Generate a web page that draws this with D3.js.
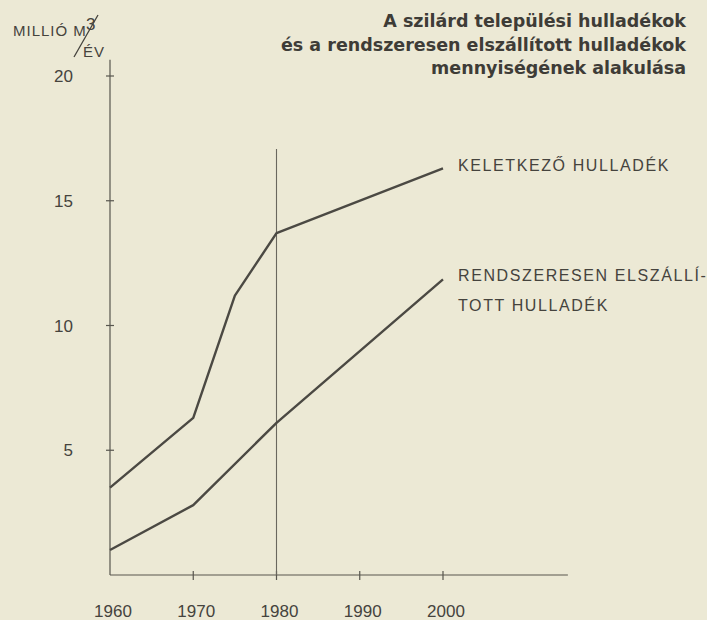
<!DOCTYPE html>
<html>
<head>
<meta charset="utf-8">
<title>Szilárd települési hulladékok</title>
<style>
  body { margin: 0; background: #ece9d5; }
  svg { display: block; }
  .axis text { font: 17px "Liberation Sans", Arial, sans-serif; fill: #45433d; }
  .axis path, .axis line { stroke: #58564e; stroke-width: 1.2; }
  .title { font: bold 17.5px "DejaVu Sans", sans-serif; fill: #3e3c37; }
  .lbl { font: 16px "Liberation Sans", Arial, sans-serif; fill: #45433d; letter-spacing: 1.6px; }
  .unit { font: 15px "Liberation Sans", Arial, sans-serif; fill: #45433d; letter-spacing: 1px; }
</style>
<script src="https://d3js.org/d3.v7.min.js"></script>
</head>
<body>
<div id="chart"></div>
<script>
// data
var keletkezoYears = [1960, 1970, 1975, 1980, 2000];
var keletkezoValues = [3.5, 6.3, 11.2, 13.7, 16.3];
var elszallitottYears = [1960, 1970, 1980, 2000];
var elszallitottValues = [1.0, 2.8, 6.1, 11.85];
var xTicks = [1960, 1970, 1980, 1990, 2000];
var yTicks = [5, 10, 15, 20];
var titleLines = ["A szilárd települési hulladékok",
                  "és a rendszeresen elszállított hulladékok",
                  "mennyiségének alakulása"];

var W = 707, H = 620;
var svg = d3.select("#chart").append("svg")
  .attr("width", W).attr("height", H);

svg.append("rect").attr("width", W).attr("height", H).attr("fill", "#ece9d5");

// scales
var x = d3.scaleLinear().domain([1960, 2000]).range([110, 443]);
var y = d3.scaleLinear().domain([0, 20]).range([575, 76]);

// x axis (ticks cross the line)
var gx = svg.append("g").attr("class", "axis");
gx.append("line")
  .attr("x1", x(1960)).attr("x2", x(2015))
  .attr("y1", y(0)).attr("y2", y(0));
gx.selectAll(".tk").data(xTicks.slice(1)).enter().append("line")
  .attr("x1", function(d) { return x(d); }).attr("x2", function(d) { return x(d); })
  .attr("y1", y(0) - 4).attr("y2", y(0) + 5);
gx.selectAll("text").data(xTicks).enter().append("text")
  .attr("x", function(d) { return x(d) + 3; })
  .attr("y", 617)
  .attr("text-anchor", "middle")
  .text(function(d) { return d; });

// y axis
var gy = svg.append("g").attr("class", "axis");
gy.append("line")
  .attr("x1", x(1960)).attr("x2", x(1960))
  .attr("y1", y(0)).attr("y2", y(20.65));
gy.selectAll(".tk").data(yTicks).enter().append("line")
  .attr("x1", x(1960) - 4).attr("x2", x(1960) + 4)
  .attr("y1", function(d) { return y(d); }).attr("y2", function(d) { return y(d); });
gy.selectAll("text").data(yTicks).enter().append("text")
  .attr("x", 73)
  .attr("y", function(d) { return y(d) + 6; })
  .attr("text-anchor", "end")
  .text(function(d) { return d; });

// vertical line at 1980
svg.append("line").attr("class", "axis")
  .attr("x1", x(1980)).attr("x2", x(1980))
  .attr("y1", y(0)).attr("y2", 149)
  .attr("stroke", "#6a675e").attr("stroke-width", 1.1);

// unit label
var unit = svg.append("g");
unit.append("text").attr("class", "unit").attr("x", 13).attr("y", 36).text("MILLIÓ M");
unit.append("text").attr("class", "unit").attr("x", 86).attr("y", 30).style("font-size", "17px").text("3");
unit.append("text").attr("class", "unit").attr("x", 83).attr("y", 57).text("ÉV");
unit.append("line").attr("x1", 74).attr("y1", 57).attr("x2", 98).attr("y2", 15)
  .attr("stroke", "#45433d").attr("stroke-width", 1.3);

// lines
var line = d3.line()
  .x(function(d) { return x(d[0]); })
  .y(function(d) { return y(d[1]); });

svg.append("path")
  .datum(d3.zip(keletkezoYears, keletkezoValues))
  .attr("d", line)
  .attr("fill", "none").attr("stroke", "#4b4943").attr("stroke-width", 2.4)
  .attr("stroke-linejoin", "round");

svg.append("path")
  .datum(d3.zip(elszallitottYears, elszallitottValues))
  .attr("d", line)
  .attr("fill", "none").attr("stroke", "#4b4943").attr("stroke-width", 2.4)
  .attr("stroke-linejoin", "round");

// series labels
svg.append("text").attr("class", "lbl").attr("x", 458).attr("y", 171).text("KELETKEZŐ HULLADÉK");
svg.append("text").attr("class", "lbl").attr("x", 458).attr("y", 281).text("RENDSZERESEN ELSZÁLLÍ-");
svg.append("text").attr("class", "lbl").attr("x", 458).attr("y", 311).text("TOTT HULLADÉK");

// title
svg.append("g").selectAll("text").data(titleLines).enter().append("text")
  .attr("class", "title")
  .attr("x", 686)
  .attr("y", function(d, i) { return 27 + i * 23.5; })
  .attr("text-anchor", "end")
  .text(function(d) { return d; });
</script>
</body>
</html>
